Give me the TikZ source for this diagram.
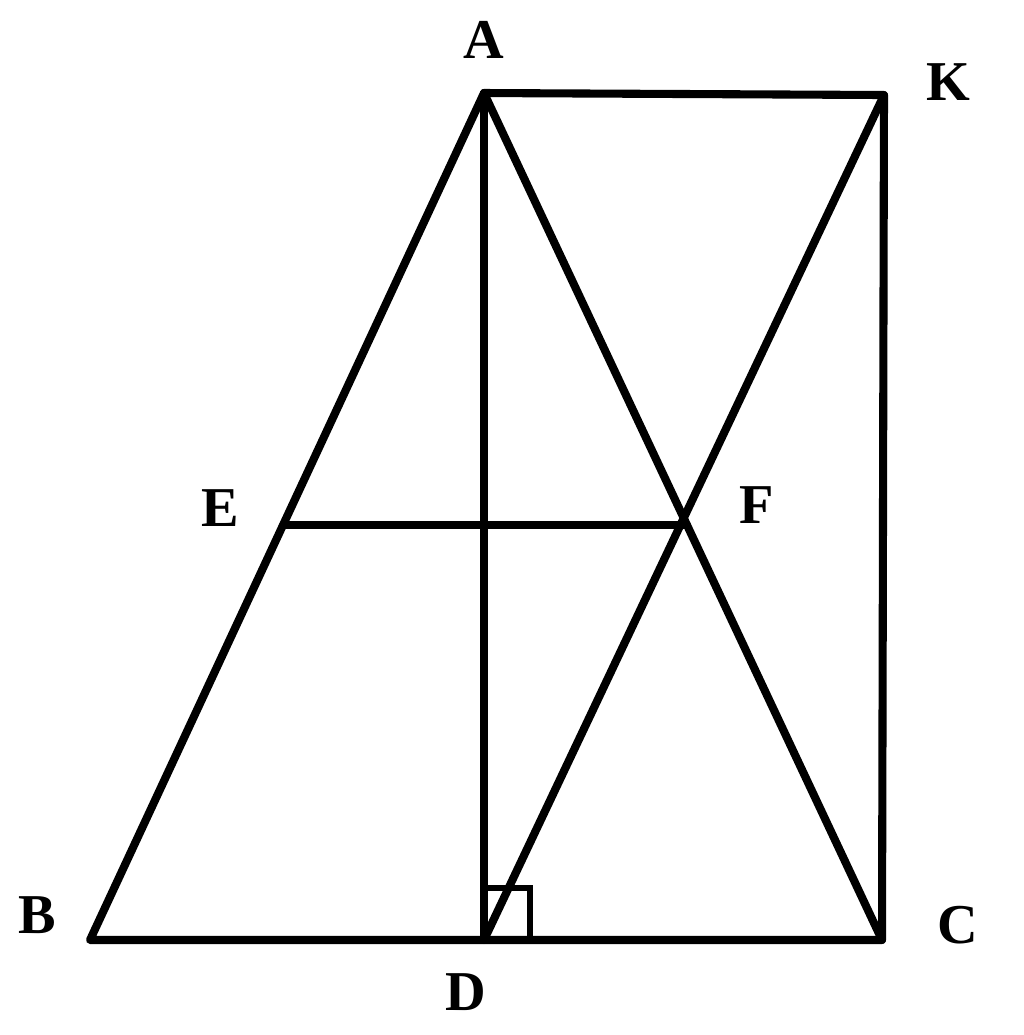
\documentclass[tikz,border=0pt]{standalone}
\usepackage{fontspec}
\setmainfont{Liberation Serif}
\usetikzlibrary{calc}

\begin{document}
\begin{tikzpicture}[x=0.01cm,y=-0.01cm]
			\tikzset{seg/.style={draw, line width=2.3pt, line cap=round, line join=round},
        rightmark/.style={draw, line width=1.6pt},
        lbl/.style={inner sep=0pt, font=\fontsize{16}{19}\selectfont\bfseries}
        }
			\useasboundingbox (0,0) rectangle (1024,1035);

			\coordinate (A) at (484,93);
			\coordinate (K) at (884,95);
			\coordinate (B) at (90,940);
			\coordinate (C) at (882,940);
			\coordinate (D) at (484,940);
			\coordinate (E) at ($(A)!0.51!(B)$);
			\coordinate (F) at ($(A)!0.51!(C)$);

			\node [lbl] (la) at (484,40) {A};
			\node [lbl] (lk) at (948,82) {K};
			\node [lbl] (lb) at (37,915) {B};
			\node [lbl] (lc) at (958,925) {C};
			\node [lbl] (ld) at (466,992) {D};
			\node [lbl] (le) at (220,508) {E};
			\node [lbl] (lf) at (757,505) {F};

			\path[seg] (A) -- (B) -- (C) -- (K) -- cycle;
			\path[seg] (A) -- (C);
			\path[seg] (A) -- (D);
			\path[seg] (K) -- (D);
			\path[seg] (E) -- (F);
			\path[rightmark] (D) ++(0,-52) -- ++(46,0) -- ++(0,52);

		\end{tikzpicture}
\end{document}
